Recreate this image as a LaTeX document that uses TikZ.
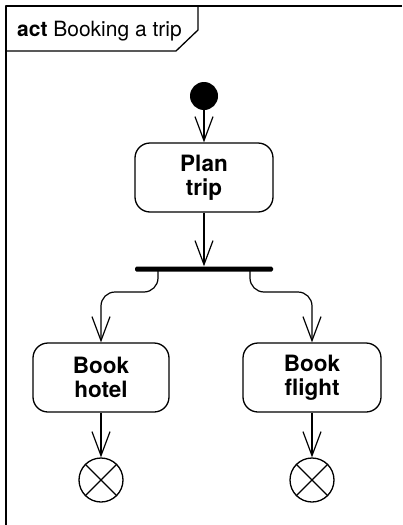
\documentclass[tikz,border=0pt]{standalone}
\usepackage{fontspec}
\setmainfont{TeX Gyre Heros}
\usetikzlibrary{arrows.meta}
\begin{document}
\begin{tikzpicture}[x=1pt,y=-1pt,line join=round,
  actbox/.style={draw,rounded corners=15pt,line width=1.3pt,minimum width=138pt,minimum height=69pt,align=center,inner sep=0pt,font=\fontsize{22.5}{24}\selectfont\bfseries},
  flow/.style={line width=1.2pt,-{Straight Barb[length=24pt,width=18pt,line width=1.2pt]}},
  finalnode/.style={draw,circle,line width=1.3pt,minimum size=44pt,inner sep=0pt},
  frameline/.style={line width=1.3pt}]
\useasboundingbox (0,0) rectangle (402,525);
% frame
\draw[frameline] (402,6) -- (6,6) -- (6,525);
\draw[frameline] (198,6) -- (198,30) -- (176,51) -- (6,51);
\node[anchor=base west,inner sep=0pt,font=\fontsize{21}{24}\selectfont] (title) at (17,36) {\textbf{act} Booking a trip};
% nodes
\node[circle,fill,minimum size=28pt,inner sep=0pt] (init) at (204,96) {};
\node[actbox] (plan) at (204,177.5) {Plan\\trip};
\node[fill,minimum width=138pt,minimum height=5pt,inner sep=0pt,rounded corners=1.5pt] (fork) at (204,269) {};
\node[actbox,minimum width=136pt] (hotel) at (101,377.5) {Book\\hotel};
\node[actbox] (flight) at (312,377.5) {Book\\flight};
\node[finalnode] (endh) at (101,480) {};
\node[finalnode] (endf) at (312,480) {};
\draw[line width=1.2pt] (endh.45) -- (endh.225) (endh.135) -- (endh.315);
\draw[line width=1.2pt] (endf.45) -- (endf.225) (endf.135) -- (endf.315);
% connectors
\draw[flow] (init) -- (plan);
\draw[flow] (plan) -- (fork);
\coordinate (fl) at (158,270);
\coordinate (fr) at (250,270);
\draw[flow,rounded corners=14pt] (fl) -- (158,292) -- (hotel.north |- 0,292) -- (hotel.north);
\draw[flow,rounded corners=14pt] (fr) -- (250,292) -- (flight.north |- 0,292) -- (flight.north);
\draw[flow] (hotel) -- (endh);
\draw[flow] (flight) -- (endf);
\end{tikzpicture}
\end{document}
